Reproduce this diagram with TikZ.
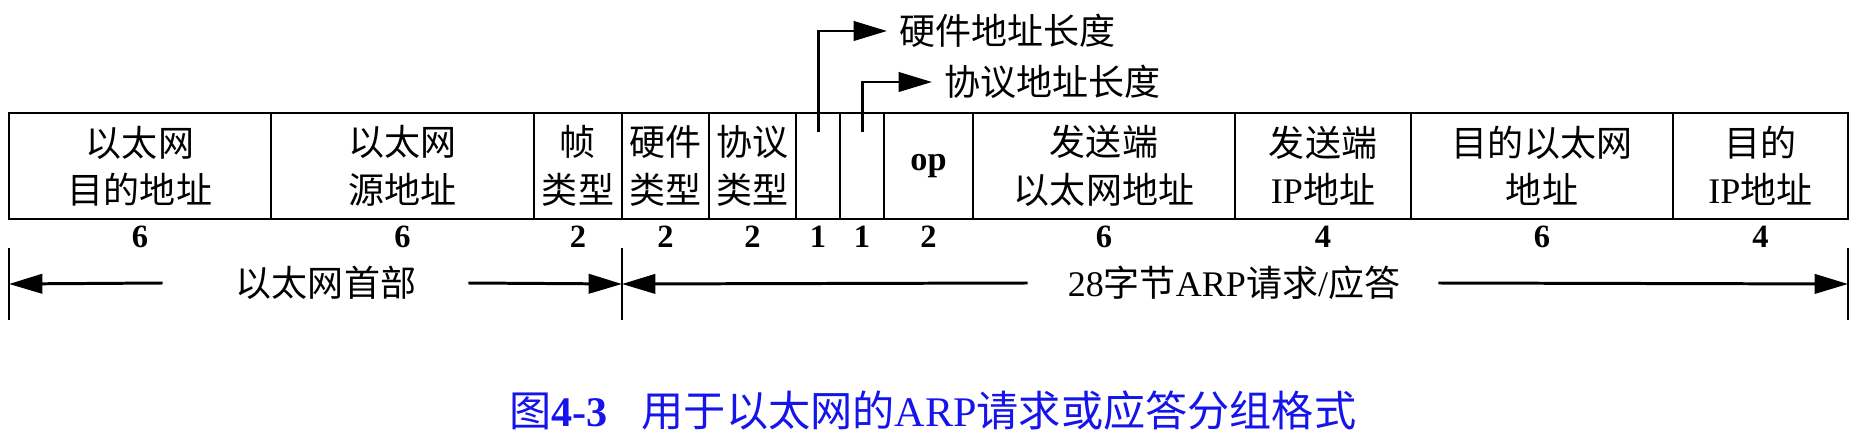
\documentclass[tikz,border=0pt]{standalone}
\usepackage{fontspec}
\setmainfont{Liberation Serif}
\newfontfamily\cjk{Noto Sans CJK SC}
\newcommand\lat[1]{{\rmfamily #1}}
\definecolor{capblue}{RGB}{20,20,235}
\usetikzlibrary{arrows.meta, positioning}

\begin{document}
\begin{tikzpicture}[
    x=0.02cm, y=-0.02cm,
    node distance=1.4mm,
    field/.style = {draw, line width=1.5pt, outer sep=0pt, inner sep=0pt,
                    minimum height=2.12cm, align=center,
                    font=\cjk\fontsize{20.5}{27}\selectfont},
    num/.style   = {inner sep=0pt, font=\fontsize{18.5}{18.5}\selectfont\bfseries},
    lbl/.style   = {inner sep=0pt, font=\cjk\fontsize{20.5}{24}\selectfont},
    arr/.style   = {line width=1.7pt, -{Triangle[length=19pt, width=11pt]}},
    dimtick/.style = {line width=1.2pt}
     ]
    \useasboundingbox (0,0) rectangle (1864,442);
%
    \foreach \n/\xa/\xb/\sz/\txt in {
        dstmac/9/271/6/{以太网\\目的地址},
        srcmac/271/534/6/{以太网\\源地址},
        ftype/534/622/2/{帧\\类型},
        hwtype/622/709/2/{硬件\\类型},
        prtype/709/796/2/{协议\\类型},
        hwlen/796/840/1/{},
        prlen/840/884/1/{},
        opcode/884/973/2/{\lat{\fontsize{19.5}{19.5}\selectfont\bfseries op}},
        sndmac/973/1235/6/{发送端\\以太网地址},
        sndip/1235/1411/4/{发送端\\\lat{IP}地址},
        tgtmac/1411/1673/6/{目的以太网\\地址},
        tgtip/1673/1848/4/{目的\\\lat{IP}地址}}
    {
        \node[field, minimum width={(\xb-\xa)*0.02cm}] (\n) at ({(\xa+\xb)/2},166) {\txt};
        \node[num, below=of \n] (\n-sz) {\sz};
    }
%
    \node[lbl, anchor=west] (hwlenlbl) at (899,31) {硬件地址长度};
    \node[lbl, anchor=west] (prlenlbl) at (944,82) {协议地址长度};
    \draw[arr] (hwlen.north) ++(0,19) |- ([xshift=-0.24cm] hwlenlbl.west);
    \draw[arr] (prlen.north) ++(0,19) |- ([xshift=-0.24cm] prlenlbl.west);
%
    \coordinate (ethL) at (dstmac.west |- 0,284);
    \coordinate (ethR) at (hwtype.west |- 0,284);
    \coordinate (arpR) at (tgtip.east |- 0,284);
    \foreach \c in {ethL, ethR, arpR}
        \draw[dimtick] (\c) ++(0,-36) -- ++(0,72);
%
    \node[lbl] (ethhdr) at (326,283) {以太网首部};
    \draw[arr] ([xshift=-1.46cm] ethhdr.west) -- (ethL);
    \draw[arr] ([xshift=1.04cm] ethhdr.east) -- (ethR);
%
    \node[lbl] (arpmsg) at (1234,283) {\lat{28}字节\lat{ARP}请求\lat{/}应答};
    \draw[arr] ([xshift=-0.8cm] arpmsg.west) -- (ethR);
    \draw[arr] ([xshift=0.76cm] arpmsg.east) -- (arpR);
%
    \node[inner sep=0pt, text=capblue, font=\cjk\fontsize{24}{24}\selectfont] (caption) at (933,410)
        {图\lat{\bfseries 4-3}\hspace{0.8em}用于以太网的\lat{ARP}请求或应答分组格式};
\end{tikzpicture}
\end{document}
